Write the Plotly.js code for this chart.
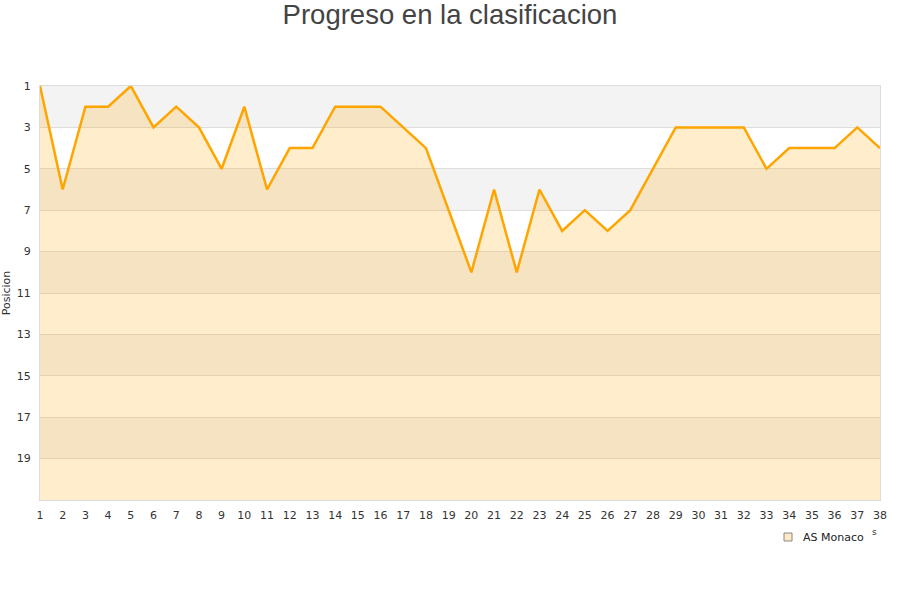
<!DOCTYPE html>
<html>
<head>
<meta charset="utf-8">
<script src="https://cdn.plot.ly/plotly-3.0.1.min.js"></script>
<style>html,body{margin:0;padding:0;background:#fff;}#chart{width:900px;height:600px;}</style>
</head>
<body>
<div id="chart"></div>
<script>
const jornadas = [1,2,3,4,5,6,7,8,9,10,11,12,13,14,15,16,17,18,19,20,21,22,23,24,25,26,27,28,29,30,31,32,33,34,35,36,37,38];
const posiciones = [1,6,2,2,1,3,2,3,5,2,6,4,4,2,2,2,3,4,7,10,6,10,6,8,7,8,7,5,3,3,3,3,5,4,4,4,3,4];
const equipo = 'AS Monaco';
const yTicks = [1,3,5,7,9,11,13,15,17,19];
const ultimaPosicion = 21;

const baseline = jornadas.map(() => ultimaPosicion);

const shapes = [];
for (let i = 0; i < 10; i++) {
  if (i % 2 === 0) {
    shapes.push({type:'rect', xref:'paper', yref:'y', x0:0, x1:1, y0:1+2*i, y1:3+2*i,
      fillcolor:'#f3f3f3', line:{width:0}, layer:'below'});
  }
}
// legend symbol
shapes.push({type:'rect', xref:'paper', yref:'paper', xsizemode:'pixel', ysizemode:'pixel',
  xanchor:0.8905, yanchor:-0.0894, x0:-4, x1:4, y0:-4, y1:4,
  fillcolor:'#fde9c6', line:{color:'#888', width:1}});

const traces = [
  {x: jornadas, y: baseline, mode:'lines', line:{width:0, color:'rgba(0,0,0,0)'}, showlegend:false, hoverinfo:'skip'},
  {x: jornadas, y: posiciones, mode:'lines', fill:'tonexty', fillcolor:'rgba(255,165,0,0.2)',
   line:{color:'#ffa500', width:2.5}, name: equipo, showlegend:false}
];

const layout = {
  width:900, height:600,
  paper_bgcolor:'#fff', plot_bgcolor:'#fff',
  margin:{l:40, r:20, t:86, b:100},
  font:{family:'DejaVu Sans, sans-serif', size:11, color:'#333'},
  title:{text:'Progreso en la clasificacion', font:{family:'Liberation Sans, Arial, sans-serif', size:27.5, color:'#444'},
         x:0.5, xanchor:'center', y:0.992, yanchor:'top'},
  xaxis:{range:[1,38], tickvals:jornadas, ticktext:jornadas.map(String), showgrid:false, zeroline:false,
         showline:true, linecolor:'#dcdcdc', linewidth:1, mirror:true, ticks:'', ticklen:0,
         ticklabelstandoff:5, tickfont:{size:11, color:'#333'}},
  yaxis:{range:[ultimaPosicion,1], tickvals:yTicks, ticktext:yTicks.map(String), showgrid:true, gridcolor:'#dddddd',
         zeroline:false, showline:true, linecolor:'#dcdcdc', linewidth:1, mirror:true, ticks:'',
         ticklabelstandoff:6, tickfont:{size:11, color:'#333'},
         title:{text:'Posicion', font:{size:11, color:'#333'}, standoff:8}},
  shapes: shapes,
  showlegend:false,
  annotations:[
    {text: equipo, xref:'paper', yref:'paper', x:0.906, y:-0.0894, xanchor:'left', yanchor:'middle',
     showarrow:false, font:{size:11, color:'#222'}},
    {text:'s', xref:'paper', yref:'paper', x:0.994, y:-0.0773, xanchor:'center', yanchor:'middle',
     showarrow:false, font:{size:9, color:'#333'}}
  ]
};

Plotly.newPlot('chart', traces, layout, {displayModeBar:false});
</script>
</body>
</html>
